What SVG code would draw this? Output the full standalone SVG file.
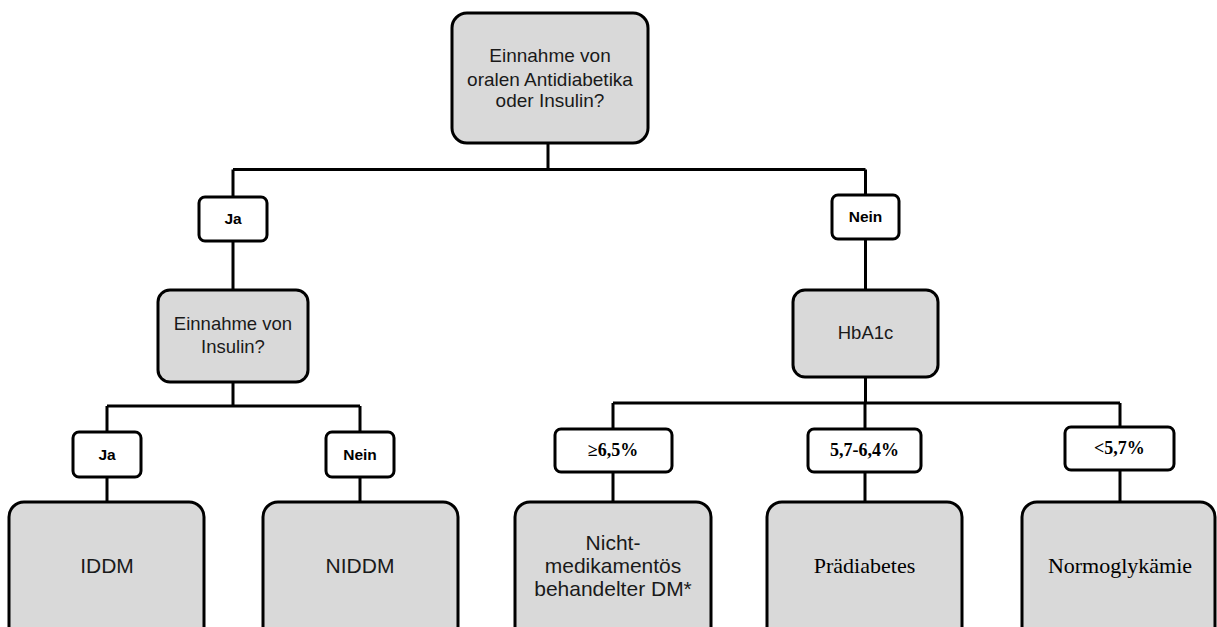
<svg xmlns="http://www.w3.org/2000/svg" width="1217" height="627" viewBox="0 0 1217 627">
<style>
.big{fill:#d9d9d9;stroke:#000;stroke-width:3}
.lab{fill:#fff;stroke:#000;stroke-width:3}
.ln{fill:none;stroke:#000;stroke-width:3}
.s{font-family:"Liberation Sans",Arial,sans-serif;fill:#1a1a1a;text-anchor:middle}
.q{font-size:18.5px}
.qt{font-size:19px}
.b{font-size:21px}
.lb{font-family:"Liberation Sans",Arial,sans-serif;font-weight:bold;font-size:15.5px;text-anchor:middle;fill:#000}
.tb{font-family:"Liberation Serif","Times New Roman",serif;font-weight:bold;font-size:18px;text-anchor:middle;fill:#000}
.t{font-family:"Liberation Serif","Times New Roman",serif;font-size:22px;text-anchor:middle;fill:#000}
</style>
<rect width="1217" height="627" fill="#fff"/>
<g id="connectors">
<path class="ln" d="M548,143 V169.5 M233,169.5 H865.5 M233,169.5 V197 M865.5,169.5 V197"/>
<path class="ln" d="M233,241 V290 M865.5,239 V290"/>
<path class="ln" d="M233,382 V406 M107,406 H360 M107,406 V432 M360,406 V432 M107,477 V502 M360,477 V502"/>
<path class="ln" d="M865.5,377 V403 M613,403 H1120 M613,403 V429 M865,403 V429 M1120,403 V428 M613,472 V502 M865,472 V502 M1120,470 V502"/>
</g>
<g id="n_top">
<rect class="big" x="452" y="13" width="196" height="130" rx="15"/>
<text class="s qt" x="550" y="62">Einnahme von</text>
<text class="s qt" x="550" y="86">oralen Antidiabetika</text>
<text class="s qt" x="550" y="107">oder Insulin?</text>
</g>
<g id="l_ja1">
<rect class="lab" x="199" y="197" width="68" height="44" rx="6"/>
<text class="lb" x="233" y="224">Ja</text>
</g>
<g id="l_nein1">
<rect class="lab" x="832" y="195" width="67" height="44" rx="6"/>
<text class="lb" x="865.5" y="222">Nein</text>
</g>
<g id="n_insulin">
<rect class="big" x="158" y="290" width="150" height="92" rx="12"/>
<text class="s q" x="233" y="330">Einnahme von</text>
<text class="s q" x="233" y="353">Insulin?</text>
</g>
<g id="n_hba1c">
<rect class="big" x="793" y="290" width="145" height="87" rx="12"/>
<text class="s q" x="865.5" y="339">HbA1c</text>
</g>
<g id="l_ja2">
<rect class="lab" x="73" y="432" width="68" height="45" rx="6"/>
<text class="lb" x="107" y="460">Ja</text>
</g>
<g id="l_nein2">
<rect class="lab" x="326" y="432" width="68" height="45" rx="6"/>
<text class="lb" x="360" y="460">Nein</text>
</g>
<g id="l_ge65">
<rect class="lab" x="555" y="429" width="117" height="43" rx="6"/>
<text class="tb" x="613" y="456">≥6,5%</text>
</g>
<g id="l_5764">
<rect class="lab" x="808" y="429" width="113" height="43" rx="6"/>
<text class="tb" x="864.5" y="456">5,7-6,4%</text>
</g>
<g id="l_lt57">
<rect class="lab" x="1065" y="427" width="109" height="43" rx="6"/>
<text class="tb" x="1119.5" y="454">&lt;5,7%</text>
</g>
<g id="n_iddm">
<rect class="big" x="9" y="502" width="195" height="140" rx="15"/>
<text class="s b" x="107" y="573">IDDM</text>
</g>
<g id="n_niddm">
<rect class="big" x="263" y="502" width="195" height="140" rx="15"/>
<text class="s b" x="360" y="573">NIDDM</text>
</g>
<g id="n_nicht">
<rect class="big" x="515" y="502" width="196" height="140" rx="15"/>
<text class="s b" x="613" y="550">Nicht-</text>
<text class="s b" x="613" y="573">medikamentös</text>
<text class="s b" x="613" y="596">behandelter DM*</text>
</g>
<g id="n_praed">
<rect class="big" x="767" y="502" width="195" height="140" rx="15"/>
<text class="t" x="864.5" y="573">Prädiabetes</text>
</g>
<g id="n_normo">
<rect class="big" x="1022" y="502" width="193" height="140" rx="15"/>
<text class="t" x="1120" y="573">Normoglykämie</text>
</g>
</svg>
